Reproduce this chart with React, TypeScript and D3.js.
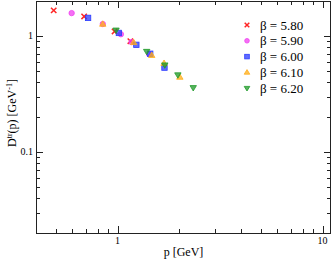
import { useEffect, useRef } from "react";
import * as d3 from "d3";

const W = 332, H = 260;
const margin = { top: 1, right: 1, bottom: 27, left: 36 };

// beta values & markers
const betas = ["5.80", "5.90", "6.00", "6.10", "6.20"];
const colors = ["#ff0000", "#f040f0", "#2b3bff", "#ffae1a", "#1f9a2a"];
const shapes = ["cross", "circle", "square", "triangle", "triangleDown"];

// momentum [GeV] and propagator [GeV^-1] per beta
const p580 = [0.488, 0.687, 0.967, 1.155];
const d580 = [1.66, 1.473, 1.093, 0.901];
const p590 = [0.597, 0.847, 1.038, 1.171, 1.424];
const d590 = [1.573, 1.266, 1.034, 0.884, 0.698];
const p600 = [0.718, 1.015, 1.235, 1.443, 1.694];
const d600 = [1.43, 1.061, 0.838, 0.702, 0.533];
const p610 = [0.847, 1.198, 1.468, 1.686, 2.013];
const d610 = [1.266, 0.88, 0.681, 0.582, 0.442];
const p620 = [0.983, 1.387, 1.7, 1.969, 2.34];
const d620 = [1.119, 0.733, 0.56, 0.46, 0.357];

const seriesP = [p580, p590, p600, p610, p620];
const seriesD = [d580, d590, d600, d610, d620];

const xTicks = [1, 10];
const yTicks = [0.1, 1];

function drawMarker(g, shape, color, x, y, s = 2.7) {
  if (shape === "cross") {
    g.append("path")
      .attr("d", `M${x - s},${y - s}L${x + s},${y + s}M${x - s},${y + s}L${x + s},${y - s}`)
      .attr("stroke", color).attr("stroke-width", 1.5).attr("opacity", 0.85);
  } else if (shape === "circle") {
    g.append("circle").attr("cx", x).attr("cy", y).attr("r", s)
      .attr("fill", color).attr("stroke", color).attr("stroke-width", 0.8).attr("fill-opacity", 0.75);
  } else if (shape === "square") {
    g.append("rect").attr("x", x - s).attr("y", y - s).attr("width", 2 * s).attr("height", 2 * s)
      .attr("fill", color).attr("stroke", color).attr("stroke-width", 0.8).attr("fill-opacity", 0.75);
  } else if (shape === "triangle") {
    g.append("path").attr("d", `M${x},${y - s - 0.5}L${x + s + 0.5},${y + s - 0.5}L${x - s - 0.5},${y + s - 0.5}Z`)
      .attr("fill", color).attr("stroke", color).attr("stroke-width", 0.8).attr("fill-opacity", 0.75);
  } else {
    g.append("path").attr("d", `M${x},${y + s + 0.5}L${x + s + 0.5},${y - s + 0.5}L${x - s - 0.5},${y - s + 0.5}Z`)
      .attr("fill", color).attr("stroke", color).attr("stroke-width", 0.8).attr("fill-opacity", 0.75);
  }
}

function render(el) {
  const svg = d3.select(el);
  svg.selectAll("*").remove();
  const x = d3.scaleLog().domain([0.4, 11]).range([margin.left, W - margin.right]);
  const y = d3.scaleLog().domain([0.02, 2]).range([H - margin.bottom, margin.top]);
  const x0 = margin.left, x1 = W - margin.right, y0 = H - margin.bottom, y1 = margin.top;
  const font = "Liberation Serif, serif";

  const ax = svg.append("g").attr("stroke", "#222").attr("stroke-width", 1);
  // x ticks (bottom & top, inward)
  const xMinor = [];
  for (const dec of [0.1, 1]) for (let k = 2; k <= 9; k++) xMinor.push(dec * k);
  xMinor.filter((v) => v >= 0.4 && v <= 11).forEach((v) => {
    const px = Math.round(x(v)) + 0.5;
    ax.append("line").attr("x1", px).attr("x2", px).attr("y1", y0).attr("y2", y0 - 4);
    ax.append("line").attr("x1", px).attr("x2", px).attr("y1", y1).attr("y2", y1 + 4);
  });
  xTicks.forEach((v) => {
    const px = Math.round(x(v)) + 0.5;
    ax.append("line").attr("x1", px).attr("x2", px).attr("y1", y0).attr("y2", y0 - 7);
    ax.append("line").attr("x1", px).attr("x2", px).attr("y1", y1).attr("y2", y1 + 7);
    svg.append("text").attr("x", x(v)).attr("y", y0 + 11).attr("text-anchor", "middle")
      .attr("font-family", font).attr("font-size", 10).text(String(v));
  });
  // y ticks (left & right, inward)
  const yMinor = [];
  for (const dec of [0.01, 0.1, 1]) for (let k = 2; k <= 9; k++) yMinor.push(dec * k);
  yMinor.filter((v) => v > 0.02 && v < 2).forEach((v) => {
    const py = Math.round(y(v)) + 0.5;
    ax.append("line").attr("x1", x0).attr("x2", x0 + 4).attr("y1", py).attr("y2", py);
    ax.append("line").attr("x1", x1).attr("x2", x1 - 4).attr("y1", py).attr("y2", py);
  });
  yTicks.forEach((v) => {
    const py = Math.round(y(v)) + 0.5;
    ax.append("line").attr("x1", x0).attr("x2", x0 + 7).attr("y1", py).attr("y2", py);
    ax.append("line").attr("x1", x1).attr("x2", x1 - 7).attr("y1", py).attr("y2", py);
    svg.append("text").attr("x", x0 - 3).attr("y", y(v) + 3.5).attr("text-anchor", "end")
      .attr("font-family", font).attr("font-size", 10).text(String(v));
  });
  svg.append("rect").attr("x", x0 + 0.5).attr("y", y1 + 0.5).attr("width", x1 - x0 - 1).attr("height", y0 - y1)
    .attr("fill", "none").attr("stroke", "#222").attr("stroke-width", 1);

  // data
  const g = svg.append("g");
  seriesP.forEach((ps, i) => {
    ps.forEach((p, j) => drawMarker(g, shapes[i], colors[i], x(p), y(seriesD[i][j])));
  });

  // legend
  betas.forEach((b, i) => {
    const ly = 25 + i * 15.8;
    drawMarker(svg.append("g"), shapes[i], colors[i], 247, ly, 2.3);
    svg.append("text").attr("x", 260).attr("y", ly + 4.5).attr("font-family", font).attr("font-size", 13)
      .text(`β = ${b}`);
  });

  // axis titles
  svg.append("text").attr("x", (x0 + x1) / 2).attr("y", 255.5).attr("text-anchor", "middle")
    .attr("font-family", font).attr("font-size", 12).text("p [GeV]");
  const yt = svg.append("text").attr("transform", `translate(16,${(y0 + y1) / 2 - 4}) rotate(-90)`)
    .attr("text-anchor", "middle").attr("font-family", font).attr("font-size", 12);
  yt.append("tspan").text("D");
  yt.append("tspan").attr("font-size", 8).attr("dy", -4).text("tr");
  yt.append("tspan").attr("dy", 4).text("(p) [GeV");
  yt.append("tspan").attr("font-size", 8).attr("dy", -4).text("-1");
  yt.append("tspan").attr("dy", 4).text("]");
}

export default function App() {
  const ref = useRef(null);
  useEffect(() => {
    if (ref.current) render(ref.current);
  }, []);
  return (
    <svg ref={ref} width={W} height={H}
      style={{ position: "absolute", left: 0, top: 0, background: "#fff" }} />
  );
}
